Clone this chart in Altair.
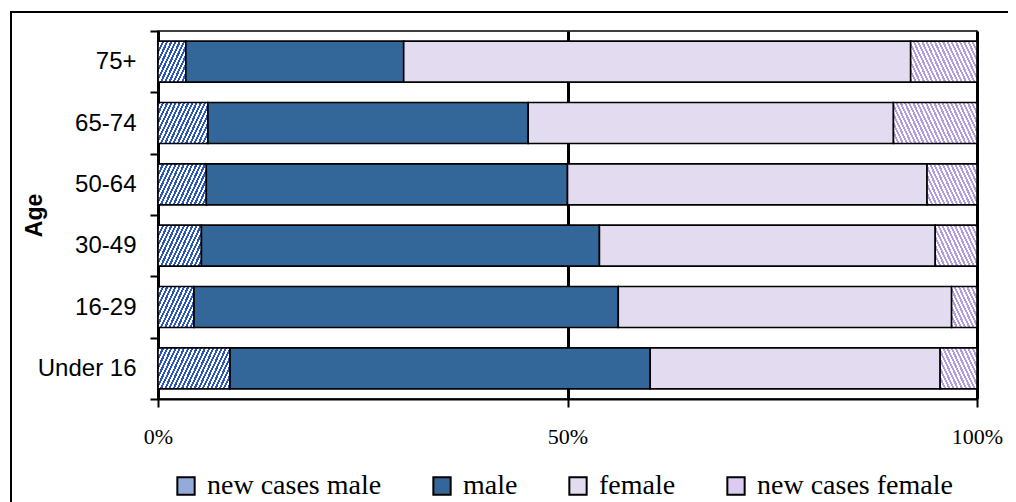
import math
import altair as alt
import pandas as pd

# ---- data ----
ages = ["75+", "65-74", "50-64", "30-49", "16-29", "Under 16"]
series = ["new cases male", "male", "female", "new cases female"]
new_male = [3.4, 6.1, 5.9, 5.3, 4.4, 8.8]
male = [26.6, 39.1, 44.1, 48.6, 51.8, 51.3]
female = [61.9, 44.6, 43.9, 41.0, 40.7, 35.4]
new_female = [8.1, 10.2, 6.1, 5.1, 3.1, 4.5]
x_ticks = [0, 0.5, 1]

# ---- styling ----
PLOT_W, PLOT_H, BAR_H = 819, 368, 41
MALE = "#336699"
FEMALE = "#E3DCF0"
NM_STRIPE, NM_BACK, NM_AVG = "#2A56B8", "#FFFFFF", "#94AADB"
NF_STRIPE, NF_BACK, NF_AVG = "#B39BE0", "#FFFFFF", "#D9CCF0"

rows = []
for i, a in enumerate(ages):
    vals = [new_male[i], male[i], female[i], new_female[i]]
    tot = sum(vals)
    for j, (s, v) in enumerate(zip(series, vals)):
        rows.append({"age": a, "series": s, "value": v, "order": j, "share": v / tot})
df = pd.DataFrame(rows)


def hatch(width_px, stripe, back, forward=True, period=3.8, angle=65):
    sa = math.sin(math.radians(angle))
    ca = math.cos(math.radians(angle))
    a = sa * width_px
    b = ca * BAR_H
    s = (a + b) / (a * a + b * b)
    if forward:
        x1, y1, x2, y2 = 0, 0, a * s, b * s
    else:
        x1, y1, x2, y2 = 0, 1, a * s, 1 - b * s
    dt = period / (a + b)
    stops = []
    k = 0
    while k * dt < 1:
        t0 = k * dt
        t1 = min(t0 + dt / 2, 1)
        t2 = min(t0 + dt, 1)
        stops += [
            {"offset": round(t0, 5), "color": stripe},
            {"offset": round(t1, 5), "color": stripe},
            {"offset": round(t1, 5), "color": back},
            {"offset": round(t2, 5), "color": back},
        ]
        k += 1
    return {"gradient": "linear", "x1": x1, "y1": y1, "x2": round(x2, 5),
            "y2": round(y2, 5), "stops": stops}


conds = []
for r in rows:
    if r["series"] == "new cases male":
        g = hatch(r["share"] * PLOT_W, NM_STRIPE, NM_BACK, True)
    elif r["series"] == "new cases female":
        g = hatch(r["share"] * PLOT_W, NF_STRIPE, NF_BACK, False)
    else:
        continue
    conds.append({"test": f"datum.age === '{r['age']}' && datum.series === '{r['series']}'",
                  "value": g})

bars = alt.Chart(df).mark_bar(stroke="black", strokeWidth=1.6).encode(
    x=alt.X("value:Q", stack="normalize",
            scale=alt.Scale(domain=[0, 1], nice=False, zero=True),
            axis=alt.Axis(values=x_ticks, format=".0%", title=None,
                          grid=True, gridColor="black", gridWidth=3, gridOpacity=1,
                          tickSize=8, tickColor="black", tickWidth=2,
                          domainColor="black", domainWidth=2,
                          labelFont="Liberation Serif", labelFontSize=22,
                          labelColor="black", labelPadding=19, labelFlush=False)),
    y=alt.Y("age:N", sort=ages,
            scale=alt.Scale(paddingInner=0, paddingOuter=0),
            axis=alt.Axis(tickBand="extent", tickSize=8, tickColor="black", tickWidth=2,
                          domainColor="black", domainWidth=2,
                          labelFont="Liberation Sans", labelFontSize=24,
                          labelColor="black", labelPadding=14,
                          title="Age", titleFont="Liberation Sans", titleFontSize=23,
                          titleFontWeight="bold", titleColor="black", titleAngle=270,
                          titleX=-124, titleY=184, titleBaseline="middle",
                          titleAlign="center")),
    fill=alt.Fill("series:N",
                  scale=alt.Scale(domain=series, range=[NM_AVG, MALE, FEMALE, NF_AVG]),
                  legend=alt.Legend(orient="none", legendX=14, legendY=441,
                                    direction="horizontal", title=None,
                                    labelFont="Liberation Serif", labelFontSize=28,
                                    labelColor="black", labelLimit=500,
                                    symbolType="square", symbolSize=300,
                                    symbolStrokeColor="black", symbolStrokeWidth=2,
                                    symbolOpacity=1, labelOffset=7,
                                    columnPadding=46),
                  condition=conds),
    order=alt.Order("order:Q"),
    size=alt.value(BAR_H),
    tooltip=["age:N", "series:N", "value:Q"],
)

frame = alt.Chart(pd.DataFrame({"k": [0]})).mark_rect(
    fillOpacity=0, stroke="black", strokeWidth=2
).encode(x=alt.value(-147), x2=alt.value(950), y=alt.value(-19), y2=alt.value(560))

chart = alt.layer(frame, bars).properties(
    width=PLOT_W, height=PLOT_H,
    autosize=alt.AutoSizeParams(type="none"),
    padding={"left": 150, "top": 23, "right": 31, "bottom": 103},
    background="white",
).configure_view(stroke="black", strokeWidth=1.5)

chart.save("out.html", embed_options={"renderer": "svg", "actions": False})
